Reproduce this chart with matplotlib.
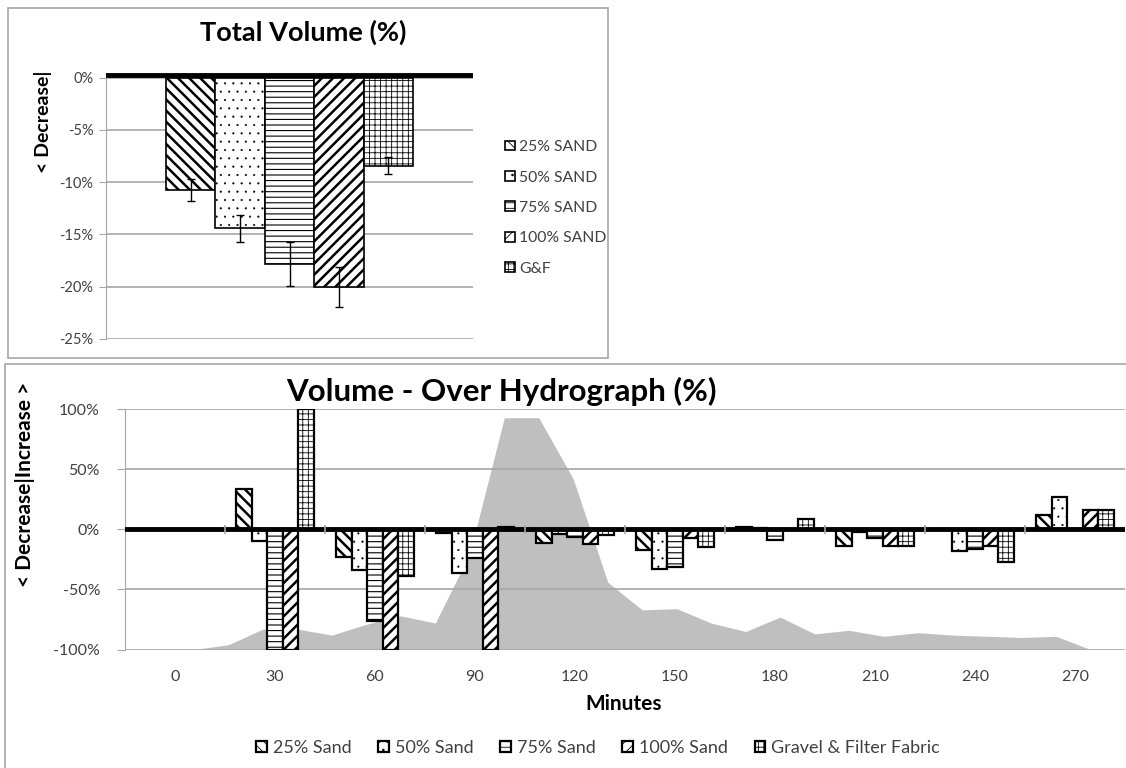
import matplotlib.pyplot as plt
from matplotlib.patches import Rectangle

plt.rcParams['font.family'] = ['Lato', 'DejaVu Sans']

W, H = 1126, 768

# top chart: total volume change with error bars
total_labels = ["25% SAND", "50% SAND", "75% SAND", "100% SAND", "G&F"]
total_values = [-10.7, -14.4, -17.8, -20.0, -8.4]
total_errors = [1.05, 1.3, 2.1, 1.9, 0.8]

# bottom chart: change per 30 minute interval
minutes = ["0", "30", "60", "90", "120", "150", "180", "210", "240", "270"]
sand25 = [0, 34, -23, -3, -11, -17, 2, -14, 0, 12]
sand50 = [0, -10, -34, -36, -4, -33, 1, -2, -18, 27]
sand75 = [0, -100, -76, -24, -6, -31, -9, -7, -16, 0]
sand100 = [0, -100, -100, -100, -12, -7, 0, -14, -14, 16]
gravel = [0, 100, -39, 2, -5, -15, 9, -14, -27, 16]
series_labels = ["25% Sand", "50% Sand", "75% Sand", "100% Sand", "Gravel & Filter Fabric"]

# hydrograph drawn behind the bars, one value every 10 min
hydro_minutes = list(range(0, 300, 10))
hydro = [-100, -100, -100, -96, -83, -83, -88, -79, -72, -78,
         -20, 93, 93, 42, -44, -67, -66, -78, -85, -73,
         -87, -84, -89, -86, -88, -89, -90, -89, -100, -100]

# hatch, hatch linewidth
styles = [("\\\\\\", 1.8), ("..", 0.3), ("---", 0.8), ("///", 1.8), ("+++", 0.6)]
grid_col = "#a6a6a6"
text_col = "#404040"


def px(x, y):
    return x / W, 1 - y / H


def hatched_bars(ax, x, heights, width, hatch, hlw, edge_lw, label, **kw):
    plt.rcParams['hatch.linewidth'] = hlw
    bars = ax.bar(x, heights, width, color="white", edgecolor="black",
                  hatch=hatch, linewidth=edge_lw, label=label, **kw)
    for b in bars:
        if hasattr(b, "set_hatch_linewidth"):
            b.set_hatch_linewidth(hlw)
    return bars


fig = plt.figure(figsize=(W / 100, H / 100), dpi=100)

# chart frames
fig.patches.append(Rectangle(px(8, 358), 600 / W, 350 / H, transform=fig.transFigure,
                             fill=False, edgecolor=grid_col, lw=1.2))
fig.patches.append(Rectangle(px(5, 800), 1200 / W, 436 / H, transform=fig.transFigure,
                             fill=False, edgecolor=grid_col, lw=1.2))

# ---- top chart ----
ax1 = fig.add_axes([106 / W, 1 - 339 / H, 367 / W, 266.5 / H])
w1 = 0.1346
for i, (lab, val, err) in enumerate(zip(total_labels, total_values, total_errors)):
    hatch, hlw = styles[i]
    hatched_bars(ax1, (i - 2) * w1, val, w1, hatch, hlw, 1.2, lab,
                 yerr=err, error_kw=dict(ecolor="black", elinewidth=1, capsize=3, capthick=1))
ax1.axhline(0.3, color="black", lw=3.5, zorder=5)
ax1.set_xlim(-0.5, 0.5)
ax1.set_ylim(-25, 0.5)
ax1.set_yticks([0, -5, -10, -15, -20, -25])
ax1.set_yticklabels(["0%", "-5%", "-10%", "-15%", "-20%", "-25%"])
ax1.set_xticks([])
ax1.yaxis.grid(True, color=grid_col, lw=1.2)
ax1.set_axisbelow(True)
for s in ["top", "right", "bottom"]:
    ax1.spines[s].set_visible(False)
ax1.spines["left"].set_color(grid_col)
ax1.tick_params(axis="y", colors=grid_col, labelcolor=text_col, labelsize=10.5, length=5, pad=4)
ax1.legend(loc="center left", bbox_to_anchor=px(491, 208), bbox_transform=fig.transFigure,
           frameon=False, fontsize=11.3, handlelength=0.6, handleheight=0.6,
           handletextpad=0.3, labelspacing=1.05, labelcolor=text_col)
fig.text(*px(303, 32), "Total Volume (%)", ha="center", va="center",
         fontsize=19.5, fontweight="bold")
fig.text(*px(43, 122), "< Decrease|", ha="center", va="center", rotation=90,
         fontsize=14, fontweight="bold")

# ---- bottom chart ----
ax = fig.add_axes([125 / W, 1 - 649.5 / H, 1000 / W, 240.2 / H])
ax2 = ax.twiny()
ax2.fill_between(hydro_minutes, -100, hydro, color="#bfbfbf", lw=0)
ax2.set_xlim(hydro_minutes[0], hydro_minutes[-1])
ax2.axis("off")
ax.set_zorder(ax2.get_zorder() + 1)
ax.patch.set_visible(False)

w = 0.156
cats = range(len(minutes))
for i, (vals, lab) in enumerate(zip([sand25, sand50, sand75, sand100, gravel], series_labels)):
    hatch, hlw = styles[i]
    hatched_bars(ax, [c + (i - 2) * w for c in cats], vals, w, hatch, hlw, 1.6, lab)

ax.axhline(0, color="black", lw=3.5, zorder=5)
ax.vlines([c + 0.5 for c in cats][:-1], -4, 4, color=grid_col, lw=1.2, zorder=6)
ax.set_xlim(-0.5, len(minutes) - 0.5)
ax.set_ylim(-100, 100)
ax.set_yticks([100, 50, 0, -50, -100])
ax.set_yticklabels(["100%", "50%", "0%", "-50%", "-100%"])
ax.set_xticks(list(cats))
ax.set_xticklabels(minutes)
ax.yaxis.grid(True, color=grid_col, lw=1.2)
ax.set_axisbelow(True)
for s in ["top", "right", "bottom"]:
    ax.spines[s].set_visible(False)
ax.spines["left"].set_color(grid_col)
ax.tick_params(axis="y", colors=grid_col, labelcolor=text_col, labelsize=11.5, length=6, pad=12)
ax.tick_params(axis="x", length=0, labelcolor=text_col, labelsize=11.5, pad=15)
ax.legend(loc="center", bbox_to_anchor=px(598, 748), bbox_transform=fig.transFigure,
          ncol=5, frameon=False, fontsize=13, handlelength=0.6, handleheight=0.6,
          handletextpad=0.3, columnspacing=1.5, labelcolor=text_col)

fig.text(*px(501, 391), "Volume - Over Hydrograph (%)", ha="center", va="center",
         fontsize=22.5, fontweight="bold")
fig.text(*px(624, 704), "Minutes", ha="center", va="center",
         fontsize=15, fontweight="bold")
fig.text(*px(25, 484), "< Decrease|Increase >", ha="center", va="center", rotation=90,
         fontsize=15, fontweight="bold")

fig.savefig("out.png", dpi=100)
